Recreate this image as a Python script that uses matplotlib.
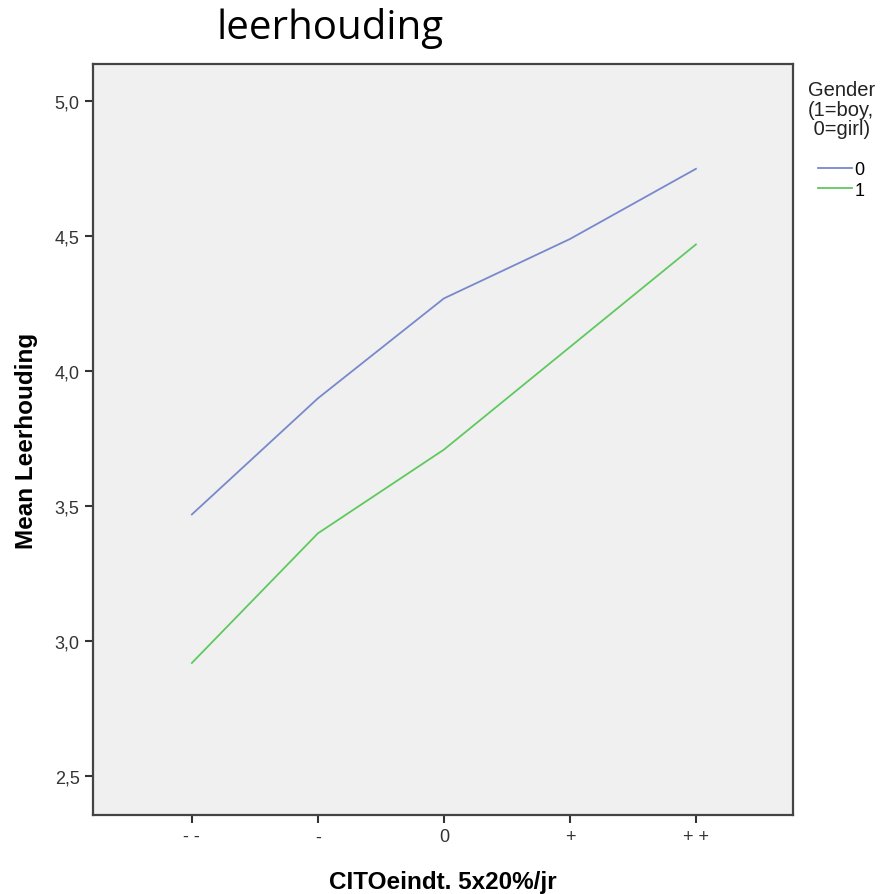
import matplotlib.pyplot as plt

plt.rcParams['font.family'] = ['Liberation Sans', 'DejaVu Sans']

# Data
categories = ['- -', '-', '0', '+', '+ +']
girls = [3.47, 3.90, 4.27, 4.49, 4.75]   # gender 0
boys = [2.92, 3.40, 3.71, 4.09, 4.47]    # gender 1
yticks = [2.5, 3.0, 3.5, 4.0, 4.5, 5.0]

fig = plt.figure(figsize=(8.84, 8.95), dpi=100)
ax = fig.add_axes([0.105, 0.088, 0.792, 0.839])
ax.set_facecolor('#f0f0f0')

x = list(range(len(categories)))
ax.plot(x, girls, color='#7789cc', lw=1.3, label='0')
ax.plot(x, boys, color='#5fc95f', lw=1.3, label='1')

ax.set_xlim(-0.786, 4.77)
ax.set_ylim(2.356, 5.137)
ax.set_xticks(x)
ax.set_xticklabels(categories)
ax.set_yticks(yticks)
ax.set_yticklabels([f'{v:.1f}'.replace('.', ',') for v in yticks])
ax.tick_params(colors='#333333', labelsize=13, width=1.5, length=6)
for s in ax.spines.values():
    s.set_color('#444444')
    s.set_linewidth(1.6)

ax.set_xlabel('CITOeindt. 5x20%/jr', fontsize=17.5, fontweight='bold', labelpad=18)
ax.set_ylabel('Mean Leerhouding', fontsize=17.5, fontweight='bold', labelpad=12)

fig.text(0.373, 0.968, 'leerhouding', fontsize=29, family='Open Sans',
         ha='center', va='center')

# legend title drawn separately, left aligned like SPSS
fig.text(0.914, 0.909, 'Gender\n(1=boy,\n 0=girl)', fontsize=14.5,
         color='#222222', ha='left', va='top', linespacing=1.02)
ax.legend(loc='upper left', bbox_to_anchor=(0.925, 0.819),
          bbox_transform=fig.transFigure, frameon=False, fontsize=13,
          handlelength=1.9, handletextpad=0.15, labelspacing=0.2,
          borderpad=0, borderaxespad=0)

fig.savefig('out.png', dpi=100)
